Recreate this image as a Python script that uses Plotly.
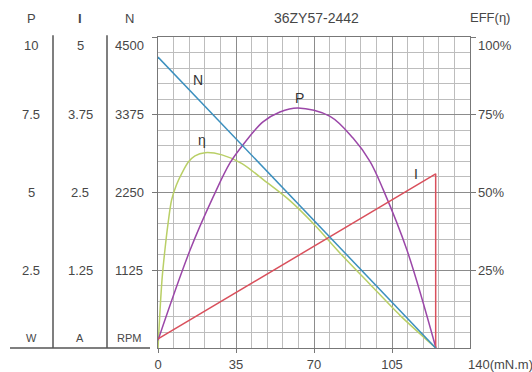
import plotly.graph_objects as go

# ---- data ----
torque_line = [0, 124.6]
speed_rpm = [4210, 0]

current_torque = [0, 124.6, 124.6]
current_a = [0.145, 2.80, 0.0]

power_torque = [0, 14.4, 24.7, 32.3, 38.1, 47.1, 54.7, 62.8, 77.2, 87.5, 95.1, 101.0, 111.7, 124.7]
power_w = [0.25, 3.15, 4.85, 5.95, 6.53, 7.27, 7.59, 7.72, 7.45, 6.75, 6.0, 5.1, 3.15, 0]

eff_torque = [0, 0.9, 1.8, 3.1, 4.5, 6.1, 8.3, 10.8, 13.6, 16.6, 21.1, 28.7, 37.7, 47.5,
              59.2, 70.4, 81.7, 95.1, 108.6, 124.7]
eff_pct = [0, 12, 22, 31.5, 40, 47.6, 52.5, 56.3, 59.8, 61.8, 62.8, 62.1, 59.3, 54.0,
           47.4, 39.5, 30.5, 20.5, 10.5, 0]

x_ticks = [0, 35, 70, 105]
p_ticks = ["10", "7.5", "5", "2.5"]
i_ticks = ["5", "3.75", "2.5", "1.25"]
n_ticks = ["4500", "3375", "2250", "1125"]
eff_ticks = ["100%", "75%", "50%", "25%"]
quarter_levels = [1.0, 0.75, 0.5, 0.25]

title_text = "36ZY57-2442"

FONT = "Liberation Sans, Arial, sans-serif"
TXT = "#474747"

fig = go.Figure()
fig.add_trace(go.Scatter(x=eff_torque, y=eff_pct, mode="lines", yaxis="y",
                         line=dict(color="#b9cf66", width=1.5, shape="spline", smoothing=0.8)))
fig.add_trace(go.Scatter(x=power_torque, y=power_w, mode="lines", yaxis="y2",
                         line=dict(color="#9b47a8", width=1.5, shape="spline", smoothing=1.0)))
fig.add_trace(go.Scatter(x=current_torque, y=current_a, mode="lines", yaxis="y3",
                         line=dict(color="#d9505c", width=1.5)))
fig.add_trace(go.Scatter(x=torque_line, y=speed_rpm, mode="lines", yaxis="y4",
                         line=dict(color="#3b8fbe", width=1.5)))

ann = []
# left columns
cols = [(-127, "P", p_ticks, "W"), (-78, "<b>I</b>", i_ticks, "A"), (-29, "N", n_ticks, "RPM")]
for xs, head, ticks, unit in cols:
    ann.append(dict(xref="paper", yref="paper", x=0, y=1, xshift=xs, yshift=19,
                    xanchor="center", yanchor="middle",
                    text=head, showarrow=False, font=dict(size=13, color=TXT, family=FONT)))
    for lvl, t in zip(quarter_levels, ticks):
        ann.append(dict(xref="paper", yref="y", x=0, y=lvl * 100, xshift=xs,
                        yshift=-8 if lvl == 1.0 else 0, xanchor="center", yanchor="middle",
                        text=t, showarrow=False, font=dict(size=13, color=TXT, family=FONT)))
    ann.append(dict(xref="paper", yref="paper", x=0, y=0, xshift=xs, yshift=10,
                    xanchor="center", yanchor="middle",
                    text=unit, showarrow=False, font=dict(size=11, color=TXT, family=FONT)))
# right labels
for lvl, t in zip(quarter_levels, eff_ticks):
    ann.append(dict(xref="paper", yref="y", x=1, y=lvl * 100, xshift=6, xanchor="left",
                    yshift=-8 if lvl == 1.0 else 0, yanchor="middle",
                    text=t, showarrow=False, font=dict(size=13, color=TXT, family=FONT)))
ann.append(dict(xref="paper", yref="paper", x=1, y=1, xshift=-2, yshift=20, xanchor="left",
                yanchor="middle",
                text="EFF(η)", showarrow=False, font=dict(size=13, color=TXT, family=FONT)))
ann.append(dict(xref="x", yref="paper", x=140, y=0, xshift=-4, yshift=-16, xanchor="left",
                yanchor="middle",
                text="140(mN.m)", showarrow=False, font=dict(size=13, color=TXT, family=FONT)))
ann.append(dict(xref="paper", yref="paper", x=0.5, y=1, yshift=19, xshift=2,
                xanchor="center", yanchor="middle",
                text=title_text, showarrow=False, font=dict(size=14, color=TXT, family=FONT)))
# curve labels
for tx, xv, yv in [("N", 17.9, 86.2), ("P", 63.7, 80.4), ("η", 19.7, 66.9), ("I", 115.8, 55.9)]:
    ann.append(dict(xref="x", yref="y", x=xv, y=yv, text=tx, showarrow=False,
                    xanchor="center", yanchor="middle",
                    font=dict(size=14, color="#333333", family=FONT)))

shapes = []
for px in (53, 107):
    shapes.append(dict(type="line", xref="paper", yref="paper",
                       x0=(px - 158) / 312, x1=(px - 158) / 312, y0=0, y1=1.006,
                       line=dict(color="#555555", width=1.5)))
shapes.append(dict(type="line", xref="paper", yref="paper",
                   x0=(10 - 158) / 312, x1=(150 - 158) / 312, y0=0, y1=0,
                   line=dict(color="#555555", width=1.5)))

fig.update_layout(
    width=532, height=372,
    margin=dict(l=158, r=62, t=37, b=24, autoexpand=False),
    paper_bgcolor="white", plot_bgcolor="white",
    showlegend=False,
    font=dict(family=FONT, size=13, color=TXT),
    xaxis=dict(range=[0, 140], tickvals=x_ticks, ticks="outside", ticklen=4,
               tickcolor="#777", showgrid=True, gridcolor="#8c8c8c", gridwidth=1,
               minor=dict(dtick=7, showgrid=True, gridcolor="#bdbdbd", gridwidth=1),
               dtick=35, showline=True, linecolor="#777", mirror=True, zeroline=False,
               automargin=False,
               tickfont=dict(size=13, color=TXT), fixedrange=True),
    yaxis=dict(range=[0, 100], side="right", tickvals=[25, 50, 75, 100], ticks="outside",
               ticklen=5, tickcolor="#777", showticklabels=False, automargin=False,
               showgrid=True, gridcolor="#8c8c8c", gridwidth=1,
               minor=dict(dtick=5, showgrid=True, gridcolor="#bdbdbd", gridwidth=1),
               showline=True, linecolor="#777", mirror=True, zeroline=False),
    yaxis2=dict(range=[0, 10], overlaying="y", visible=False, automargin=False),
    yaxis3=dict(range=[0, 5], overlaying="y", visible=False, automargin=False),
    yaxis4=dict(range=[0, 4500], overlaying="y", side="left", showgrid=False,
                showticklabels=False, ticks="outside", ticklen=5, tickcolor="#777",
                automargin=False,
                tickvals=[1125, 2250, 3375, 4500], zeroline=False, showline=False),
    annotations=ann,
    shapes=shapes,
)

fig.write_html("out.html", config={"displayModeBar": False},
               post_script="document.body.style.margin='0';")
